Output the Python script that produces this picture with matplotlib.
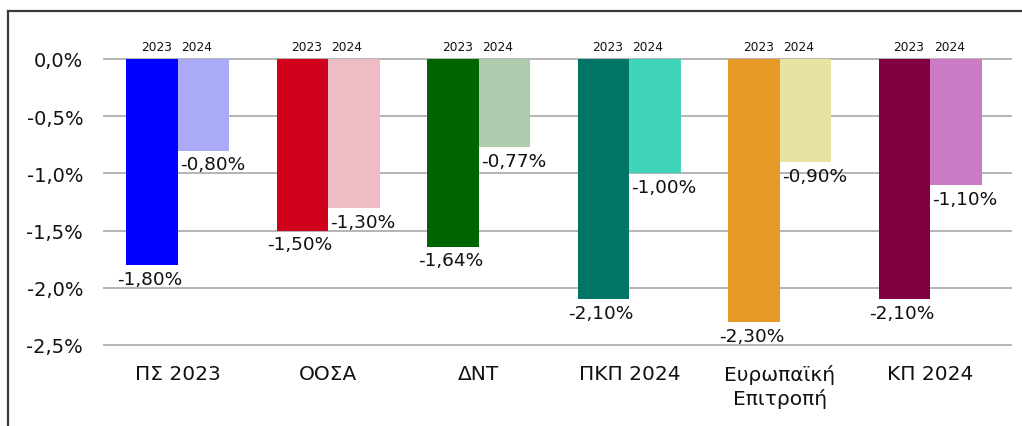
import matplotlib
matplotlib.use("Agg")
import matplotlib.pyplot as plt
from matplotlib.lines import Line2D
import numpy as np

categories = ["ΠΣ 2023", "ΟΟΣΑ", "ΔΝΤ", "ΠΚΠ 2024", "Ευρωπαϊκή\nΕπιτροπή", "ΚΠ 2024"]
values_2023 = [-1.80, -1.50, -1.64, -2.10, -2.30, -2.10]
values_2024 = [-0.80, -1.30, -0.77, -1.00, -0.90, -1.10]
year_labels = ["2023", "2024"]
colors_2023 = ["#0000FF", "#D0021B", "#006400", "#007565", "#E89A28", "#800040"]
colors_2024 = ["#AAAAF8", "#EDBCC4", "#AFCBAD", "#40D4BB", "#E8E3A0", "#CC7CC4"]
yticks = [0.0, -0.5, -1.0, -1.5, -2.0, -2.5]

plt.rcParams['font.family'] = ['DejaVu Sans']

fig = plt.figure(figsize=(10.22, 4.27), dpi=100)
ax = fig.add_axes([0.1018, 0.1897, 0.9894 - 0.1018, 0.8595 - 0.1897])

x = np.arange(len(categories))
w = 0.342
ax.bar(x - w / 2, values_2023, width=w, color=colors_2023, zorder=3)
ax.bar(x + w / 2, values_2024, width=w, color=colors_2024, zorder=3)

def fmt(v):
    return f"{v:.2f}%".replace(".", ",")

for i in range(len(categories)):
    ax.annotate(fmt(values_2023[i]), (x[i] - w / 2, values_2023[i]),
                xytext=(-2, -3.5), textcoords="offset points", ha="center", va="top",
                fontsize=13.3, color="#111111", zorder=4, annotation_clip=False)
    ax.annotate(fmt(values_2024[i]), (x[i] + w / 2, values_2024[i]),
                xytext=(6.5, -3.5), textcoords="offset points", ha="center", va="top",
                fontsize=13.3, color="#111111", zorder=4, annotation_clip=False)
    ax.annotate(year_labels[0], (x[i] - w / 2, 0), xytext=(3, 9),
                textcoords="offset points", ha="center", va="center",
                fontsize=8.8, color="#111111", annotation_clip=False)
    ax.annotate(year_labels[1], (x[i] + w / 2, 0), xytext=(-5, 9),
                textcoords="offset points", ha="center", va="center",
                fontsize=8.8, color="#111111", annotation_clip=False)

ax.set_xlim(-0.49, 5.537)
ax.set_ylim(-2.5, 0)
ax.set_yticks(yticks)
ax.set_yticklabels([f"{t:.1f}%".replace(".", ",") for t in yticks], fontsize=14)
ax.set_xticks(x)
ax.set_xticklabels(categories, fontsize=14.5, va="top", linespacing=1.25)
ax.tick_params(axis="both", length=0, colors="#111111")
ax.tick_params(axis="y", pad=15)
ax.tick_params(axis="x", pad=14)
for s in ax.spines.values():
    s.set_visible(False)
ax.grid(axis="y", color="#B4B4B4", linewidth=1.4, zorder=1)
ax.set_axisbelow(True)
for gl in ax.get_ygridlines():
    gl.set_clip_on(False)

# outer frame (left and top edges visible)
fig.add_artist(Line2D([7.5 / 1022, 7.5 / 1022], [0, 1 - 11.5 / 427],
                      transform=fig.transFigure, color="#3A3A3A", linewidth=1.6))
fig.add_artist(Line2D([7.5 / 1022, 1], [1 - 11.5 / 427, 1 - 11.5 / 427],
                      transform=fig.transFigure, color="#3A3A3A", linewidth=1.6))

fig.savefig("out.png", dpi=100)
